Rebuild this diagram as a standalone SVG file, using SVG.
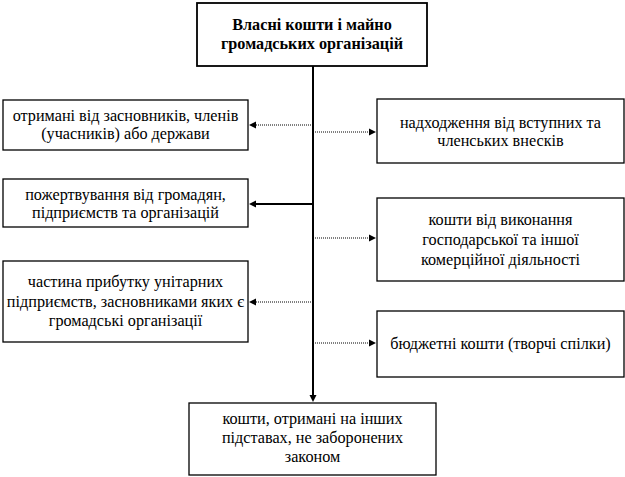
<svg xmlns="http://www.w3.org/2000/svg" width="625" height="477" viewBox="0 0 625 477">
<style>
.box{fill:#fff;stroke:#000;stroke-width:1.3}
text{font-family:'Liberation Serif','Times New Roman',serif;font-size:16.2px;fill:#000;text-anchor:middle}
.b{font-weight:bold}
.thin{stroke:#000;stroke-width:1;stroke-dasharray:1 1;fill:none}
.solid{stroke:#000;stroke-width:2;fill:none}
.ah{fill:#000;stroke:none}
</style>
<rect width="625" height="477" fill="#fff"/>
<g id="connectors">
<line class="solid" x1="313" y1="66" x2="313" y2="396"/>
<polygon class="ah" points="313,402 309.5,395 316.5,395"/>
<line class="thin" x1="313" y1="125" x2="255" y2="125"/>
<polygon class="ah" points="249,125 256,121.5 256,128.5"/>
<line class="solid" x1="313" y1="204" x2="255" y2="204"/>
<polygon class="ah" points="249,204 256,200.5 256,207.5"/>
<line class="thin" x1="313" y1="302" x2="255" y2="302"/>
<polygon class="ah" points="249,302 256,298.5 256,305.5"/>
<line class="thin" x1="313" y1="132" x2="370" y2="132"/>
<polygon class="ah" points="376,132 369,128.5 369,135.5"/>
<line class="thin" x1="313" y1="238" x2="370" y2="238"/>
<polygon class="ah" points="376,238 369,234.5 369,241.5"/>
<line class="thin" x1="313" y1="343" x2="370" y2="343"/>
<polygon class="ah" points="376,343 369,339.5 369,346.5"/>
</g>
<g font-family="Liberation Serif, Times New Roman, serif">
<g id="top">
<rect class="box" x="197" y="3" width="230" height="63" style="stroke-width:1.8"/>
<text class="b" x="312" y="30">Власні кошти і майно</text>
<text class="b" x="312" y="49">громадських організацій</text>
</g>
<g id="left1">
<rect class="box" x="3" y="100" width="245" height="50"/>
<text x="125.5" y="121">отримані від засновників, членів</text>
<text x="125.5" y="139">(учасників) або держави</text>
</g>
<g id="left2">
<rect class="box" x="3" y="179" width="245" height="48"/>
<text x="125.5" y="200">пожертвування від громадян,</text>
<text x="125.5" y="218">підприємств та організацій</text>
</g>
<g id="left3">
<rect class="box" x="3" y="261" width="245" height="81"/>
<text x="125.5" y="287">частина прибутку унітарних</text>
<text x="125.5" y="306.5">підприємств, засновниками яких є</text>
<text x="125.5" y="326">громадські організації</text>
</g>
<g id="right1">
<rect class="box" x="377" y="99" width="247" height="64"/>
<text x="500.5" y="128">надходження від вступних та</text>
<text x="500.5" y="146">членських внесків</text>
</g>
<g id="right2">
<rect class="box" x="377" y="198" width="247" height="83"/>
<text x="500.5" y="225">кошти від виконання</text>
<text x="500.5" y="245">господарської та іншої</text>
<text x="500.5" y="264.5">комерційної діяльності</text>
</g>
<g id="right3">
<rect class="box" x="377" y="311" width="247" height="66"/>
<text x="500.5" y="349">бюджетні кошти (творчі спілки)</text>
</g>
<g id="bottom">
<rect class="box" x="189" y="403" width="247" height="72"/>
<text x="312.5" y="423.5">кошти, отримані на інших</text>
<text x="312.5" y="443">підставах, не заборонених</text>
<text x="312.5" y="462">законом</text>
</g>
</g>
</svg>
